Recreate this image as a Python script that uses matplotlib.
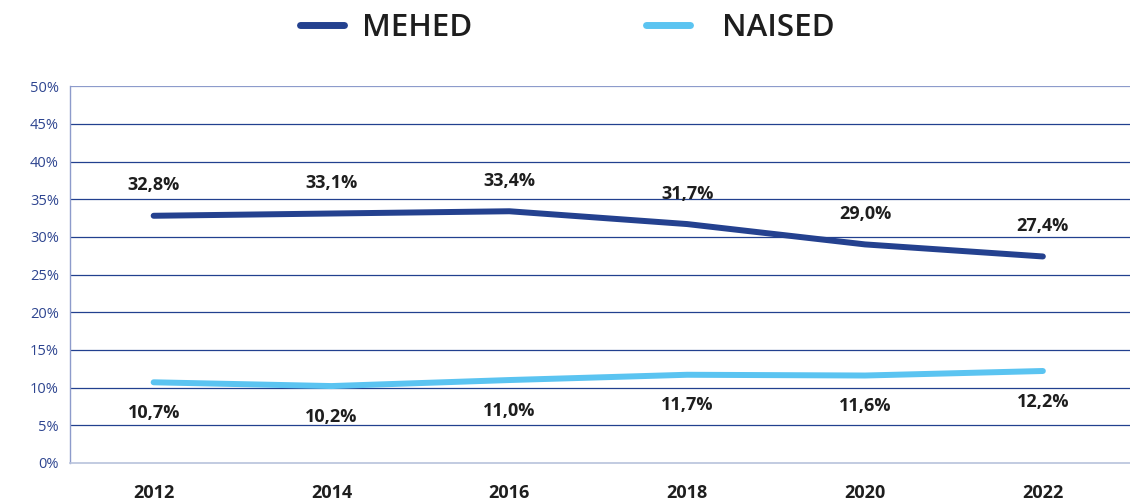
import matplotlib.pyplot as plt
from matplotlib.lines import Line2D

years = ["2012", "2014", "2016", "2018", "2020", "2022"]
mehed = [32.8, 33.1, 33.4, 31.7, 29.0, 27.4]
naised = [10.7, 10.2, 11.0, 11.7, 11.6, 12.2]
series_names = ["MEHED", "NAISED"]

dark = "#24418F"
light = "#5BC4F1"
grid_col = "#22408F"
text_col = "#1E1E1E"

plt.rcParams["font.family"] = ["Open Sans", "DejaVu Sans"]

W, H = 1130, 501
fig = plt.figure(figsize=(W / 100, H / 100), dpi=100)
ax = fig.add_axes([0.062, 0.076, 0.938, 0.752])

x = list(range(len(years)))
ax.plot(x, mehed, color=dark, lw=4.3, solid_capstyle="round")
ax.plot(x, naised, color=light, lw=4.3, solid_capstyle="round")

for xi, v in zip(x, mehed):
    ax.annotate(f"{v:.1f}%".replace(".", ","), (xi, v), xytext=(0, 22),
                textcoords="offset points", ha="center", va="center",
                fontsize=13, fontweight="bold", color=text_col)
for xi, v in zip(x, naised):
    ax.annotate(f"{v:.1f}%".replace(".", ","), (xi, v), xytext=(0, -22),
                textcoords="offset points", ha="center", va="center",
                fontsize=13, fontweight="bold", color=text_col)

ax.set_xlim(-0.47, 5.49)
ax.set_ylim(0, 50)
ax.set_yticks(range(0, 51, 5))
ax.set_yticklabels([f"{t}%" for t in range(0, 51, 5)])
ax.set_xticks(x)
ax.set_xticklabels(years)
ax.tick_params(axis="y", length=0, pad=8, labelsize=10.5, labelcolor="#2E4590")
ax.tick_params(axis="x", length=0, pad=15, labelsize=13, labelcolor=text_col)
for lab in ax.get_xticklabels():
    lab.set_fontweight("bold")

for t in range(5, 50, 5):
    ax.axhline(t, color=grid_col, lw=0.9, zorder=0)
ax.axhline(50, color="#8D9BCB", lw=0.9, zorder=0)

for s in ["top", "right"]:
    ax.spines[s].set_visible(False)
ax.spines["left"].set_color("#8D9BCB")
ax.spines["bottom"].set_color("#B8C2DC")
ax.spines["left"].set_linewidth(1)
ax.spines["bottom"].set_linewidth(1.2)

# legend drawn by hand to match the spacing of the original
leg_y = 1 - 25 / H
for name, col, x0, tx in [(series_names[0], dark, 297, 362),
                          (series_names[1], light, 643, 722)]:
    fig.add_artist(Line2D([(x0 + 3) / W, (x0 + 47) / W], [leg_y, leg_y],
                          color=col, lw=5, solid_capstyle="round"))
    fig.text(tx / W, leg_y, name, ha="left", va="center_baseline",
             fontsize=22.5, fontweight="semibold", color=text_col)

fig.savefig("out.png", dpi=100)
